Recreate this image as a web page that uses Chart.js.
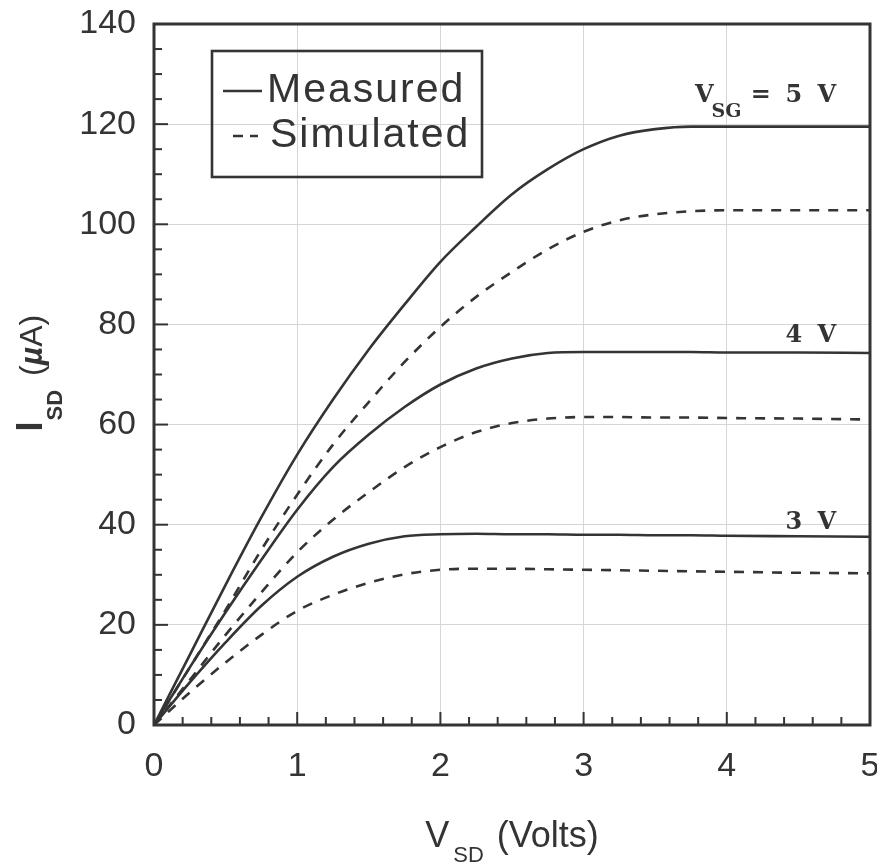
<!DOCTYPE html>
<html>
<head>
<meta charset="utf-8">
<title>I-V characteristics</title>
<script src="https://cdn.jsdelivr.net/npm/chart.js@4.4.0/dist/chart.umd.min.js"></script>
<style>
  html, body { margin: 0; padding: 0; background: #fff; }
  canvas { display: block; }
</style>
</head>
<body>
<canvas id="ivChart" width="877" height="867"></canvas>
<script>
// V_SD sample points (Volts)
const vsd = [0, 0.25, 0.5, 0.75, 1, 1.25, 1.5, 1.75, 2, 2.25, 2.5, 2.75, 3, 3.25, 3.5, 3.75, 4, 4.5, 5];

// I_SD in uA
const measured5 = [0, 14, 28, 41.5, 54, 65, 75, 84, 92.5, 99.5, 106, 111, 115, 117.7, 119, 119.5, 119.5, 119.5, 119.5];
const simulated5 = [0, 11.5, 23, 35, 46, 56, 64.5, 72.5, 79.5, 85.5, 90.5, 95, 98.5, 100.8, 102, 102.6, 102.8, 102.8, 102.8];
const measured4 = [0, 11.5, 22.5, 33, 43, 51.5, 58, 63.5, 68, 71.2, 73.2, 74.3, 74.5, 74.5, 74.5, 74.5, 74.4, 74.4, 74.3];
const simulated4 = [0, 9, 18, 26.5, 34.5, 41, 46.5, 51.5, 55.5, 58.5, 60.3, 61.2, 61.5, 61.5, 61.4, 61.4, 61.3, 61.2, 61];
const measured3 = [0, 8.5, 16.5, 23.8, 29.6, 33.6, 36.2, 37.7, 38.1, 38.2, 38.1, 38.1, 38, 38, 37.9, 37.9, 37.8, 37.7, 37.6];
const simulated3 = [0, 6.5, 12.5, 18, 22.8, 26, 28.4, 30.1, 31, 31.2, 31.2, 31.1, 31, 30.9, 30.8, 30.7, 30.6, 30.4, 30.3];

// gate voltages labelled at the right end of the measured curves
const vsgLevels = ['3', '4', '5'];
const legendLabels = ['Measured', 'Simulated'];

const ink = '#343434';
const sans = "'Liberation Sans', Arial, Helvetica, sans-serif";
const serif = "'DejaVu Serif', 'Liberation Serif', serif";

function toPoints(ys) {
  return ys.map((v, i) => ({ x: vsd[i], y: v }));
}

function curve(ys, dashed) {
  return {
    data: toPoints(ys),
    borderColor: ink,
    borderWidth: 2.6,
    borderDash: dashed ? [10, 9] : [],
    pointRadius: 0,
    fill: false,
    cubicInterpolationMode: 'monotone'
  };
}

// typewriter-like text: every character sits in a fixed cell, laid out from the right
function drawCells(ctx, text, rightX, baseline) {
  const cell = 16.5;
  ctx.textAlign = 'center';
  for (let i = 0; i < text.length; i++) {
    const ch = text[text.length - 1 - i];
    if (ch !== ' ') ctx.fillText(ch, rightX - cell / 2 - i * cell, baseline);
  }
  return rightX - text.length * cell;
}

const decorations = {
  id: 'decorations',
  afterDatasetsDraw(chart) {
    const { ctx, chartArea: a, scales: { x, y } } = chart;
    ctx.save();
    ctx.strokeStyle = ink;
    ctx.fillStyle = ink;

    // inward ticks, bottom and left
    ctx.lineWidth = 2;
    for (let i = 0; i <= 25; i++) {
      const px = x.getPixelForValue(i * 0.2);
      const len = i % 5 === 0 ? 13 : 8;
      ctx.beginPath();
      ctx.moveTo(px, a.bottom);
      ctx.lineTo(px, a.bottom - len);
      ctx.stroke();
    }
    for (let i = 0; i <= 28; i++) {
      const py = y.getPixelForValue(i * 5);
      const len = i % 4 === 0 ? 14 : 8;
      ctx.beginPath();
      ctx.moveTo(a.left, py);
      ctx.lineTo(a.left + len, py);
      ctx.stroke();
    }

    // frame
    ctx.lineWidth = 3;
    ctx.strokeRect(a.left, a.top, a.right - a.left, a.bottom - a.top);

    // V_SG labels
    const rightX = x.getPixelForValue(5) - 35;
    const plateaus = [measured3, measured4, measured5];
    const offsets = [8, 11, 25];
    ctx.textBaseline = 'alphabetic';
    vsgLevels.forEach((lvl, k) => {
      const ys = plateaus[k];
      const py = y.getPixelForValue(ys[ys.length - 1]) - offsets[k];
      ctx.font = 'bold 24px ' + serif;
      if (k < 2) {
        drawCells(ctx, lvl + ' V', rightX, py);
      } else {
        const start = drawCells(ctx, '= ' + lvl + ' V', rightX, py);
        ctx.textAlign = 'right';
        ctx.font = 'bold 19px ' + serif;
        const subRight = start - 11;
        ctx.fillText('SG', subRight, py + 15);
        const sw = ctx.measureText('SG').width;
        ctx.font = 'bold 24px ' + serif;
        ctx.fillText('V', subRight - sw + 2, py);
      }
    });

    // legend box
    const bx = a.left + 58, by = a.top + 27, bw = 270, bh = 126;
    ctx.lineWidth = 2.6;
    ctx.strokeRect(bx, by, bw, bh);
    ctx.beginPath();
    ctx.moveTo(bx + 11, by + 40);
    ctx.lineTo(bx + 50, by + 40);
    ctx.stroke();
    ctx.lineWidth = 2.4;
    ctx.beginPath();
    ctx.moveTo(bx + 21, by + 85);
    ctx.lineTo(bx + 31, by + 85);
    ctx.moveTo(bx + 38, by + 85);
    ctx.lineTo(bx + 46, by + 85);
    ctx.stroke();
    ctx.textAlign = 'left';
    ctx.font = '41px ' + sans;
    ctx.letterSpacing = '2px';
    ctx.fillText(legendLabels[0], bx + 55, by + 51);
    ctx.fillText(legendLabels[1], bx + 58, by + 96);
    ctx.letterSpacing = '0px';

    // x axis title: V_SD (Volts)
    ctx.font = '36px ' + sans;
    const wV = ctx.measureText('V').width;
    const wVolts = ctx.measureText('(Volts)').width;
    ctx.font = '22px ' + sans;
    const wSD = ctx.measureText('SD').width;
    const total = wV + 4 + wSD + 13 + wVolts;
    let tx = (a.left + a.right) / 2 - total / 2;
    const tb = a.bottom + 122;
    ctx.font = '36px ' + sans;
    ctx.fillText('V', tx, tb);
    tx += wV + 4;
    ctx.font = '22px ' + sans;
    ctx.fillText('SD', tx, tb + 15);
    tx += wSD + 13;
    ctx.font = '36px ' + sans;
    ctx.fillText('(Volts)', tx, tb);

    // y axis title: I_SD (uA), rotated
    ctx.save();
    const cy = (a.top + a.bottom) / 2;
    ctx.translate(42, cy + 57);
    ctx.rotate(-Math.PI / 2);
    let ux = 0;
    ctx.font = 'bold 36px ' + sans;
    ctx.fillText('I', ux, 0);
    ux += ctx.measureText('I').width + 1;
    ctx.font = 'bold 22px ' + sans;
    ctx.fillText('SD', ux, 20);
    ux += ctx.measureText('SD').width + 14;
    ctx.font = '32px ' + sans;
    ctx.fillText('(', ux, 0);
    ux += ctx.measureText('(').width;
    ctx.font = 'italic bold 32px ' + sans;
    ctx.fillText('\u00b5', ux, 0);
    ux += ctx.measureText('\u00b5').width;
    ctx.font = '32px ' + sans;
    ctx.fillText('A)', ux, 0);
    ctx.restore();

    ctx.restore();
  }
};

new Chart(document.getElementById('ivChart'), {
  type: 'line',
  data: {
    datasets: [
      curve(measured5, false),
      curve(simulated5, true),
      curve(measured4, false),
      curve(simulated4, true),
      curve(measured3, false),
      curve(simulated3, true)
    ]
  },
  options: {
    responsive: false,
    animation: false,
    layout: { padding: { top: 24, right: 7, left: 0, bottom: 0 } },
    plugins: {
      legend: { display: false },
      tooltip: { enabled: false }
    },
    scales: {
      x: {
        type: 'linear',
        min: 0,
        max: 5,
        ticks: {
          stepSize: 1,
          padding: 21,
          color: ink,
          font: { family: sans, size: 34 }
        },
        grid: { color: '#d6d6d6', lineWidth: 1, drawTicks: false },
        border: { display: false },
        afterFit(scale) {
          scale.height = 142;
          scale.paddingLeft = 0;
          scale.paddingRight = 0;
        }
      },
      y: {
        type: 'linear',
        min: 0,
        max: 140,
        ticks: {
          stepSize: 20,
          padding: 18,
          color: ink,
          font: { family: sans, size: 34 }
        },
        grid: { color: '#d6d6d6', lineWidth: 1, drawTicks: false },
        border: { display: false },
        afterFit(scale) {
          scale.width = 154;
          scale.paddingTop = 0;
          scale.paddingBottom = 0;
        }
      }
    }
  },
  plugins: [decorations]
});
</script>
</body>
</html>
